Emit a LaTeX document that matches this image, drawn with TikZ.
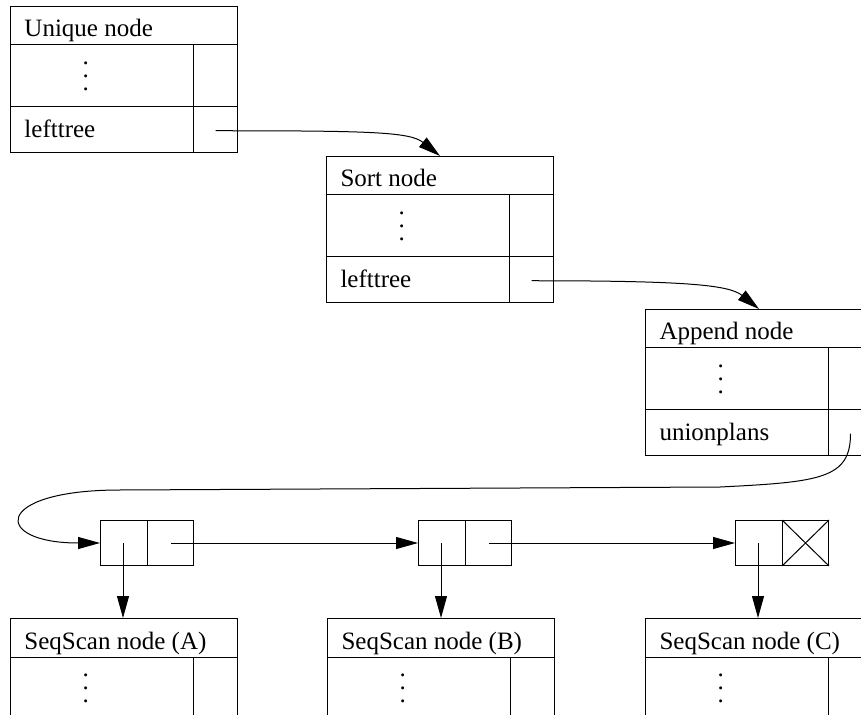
\documentclass[tikz,border=0pt]{standalone}
\usepackage{fontspec}
\setmainfont{Liberation Serif}
\usetikzlibrary{shapes,arrows.meta}
\newcommand{\titlestrut}{\rule[-3.75pt]{0pt}{18.75pt}}
\newcommand{\fieldstrut}{\rule[-7.25pt]{0pt}{22.25pt}}
\newcommand{\rowdots}{\rule[-15.25pt]{0pt}{30.5pt}\hspace*{29pt}\raisebox{-7.1pt}{\vbox{\baselineskip6.5pt\hbox{.}\hbox{.}\hbox{.}}}}
\newcommand{\cellstrut}{\makebox[23pt]{\rule{0pt}{22.5pt}}}

\begin{document}
\begin{tikzpicture}[x=0.5pt,y=-0.5pt,line width=0.5pt,>={Triangle[length=11pt,width=6pt]}]
  \tikzstyle{plannode}=[rectangle split,rectangle split parts=3,rectangle split part align=left,draw,minimum width=113.5pt,inner xsep=7pt,inner ysep=0pt,anchor=north west,font=\fontsize{12.5}{15}\selectfont]
  \tikzstyle{scannode}=[plannode,rectangle split parts=2]
  \tikzstyle{listcell}=[rectangle split,rectangle split horizontal,rectangle split parts=2,draw,inner sep=0pt,anchor=north west]
  \useasboundingbox (0,0) rectangle (861,715);

  \node[plannode] (unique) at (10,6) {\titlestrut Unique node \nodepart{two}\rowdots \nodepart{three}\fieldstrut lefttree};
  \node[plannode] (sort) at (326,156) {\titlestrut Sort node \nodepart{two}\rowdots \nodepart{three}\fieldstrut lefttree};
  \node[plannode] (append) at (645,309) {\titlestrut Append node \nodepart{two}\rowdots \nodepart{three}\fieldstrut unionplans};

  \node[listcell] (cella) at (100,520) {\cellstrut\nodepart{two}\cellstrut};
  \node[listcell] (cellb) at (418,520) {\cellstrut\nodepart{two}\cellstrut};
  \node[listcell] (cellc) at (735,520) {\cellstrut\nodepart{two}\cellstrut};
  \draw (cellc.one split north) -- (cellc.south east) (cellc.one split south) -- (cellc.north east);

  \node[scannode] (scana) at (10,618) {\titlestrut SeqScan node (A) \nodepart{two}\rowdots};
  \node[scannode] (scanb) at (327,618) {\titlestrut SeqScan node (B) \nodepart{two}\rowdots};
  \node[scannode] (scanc) at (645,618) {\titlestrut SeqScan node (C) \nodepart{two}\rowdots};

  % pointer column
  \foreach \n in {unique,sort,append,scana,scanb,scanc}
    \draw ([xshift=-22.5pt]\n.one split east) -- ([xshift=-22.5pt]\n.south east);
  \coordinate (uptr) at ([xshift=-11.25pt,yshift=11.125pt]unique.south east);
  \coordinate (sptr) at ([xshift=-11.25pt,yshift=11.125pt]sort.south east);
  \coordinate (aptr) at ([xshift=-11.25pt,yshift=11.125pt]append.south east);

  \draw[->] (uptr) .. controls +(156,0) and +(-30,-24) .. (sort.north);
  \draw[->] (sptr) .. controls +(156,0) and +(-30,-24) .. (append.north);
  \draw[->] (aptr) .. controls +(0,45) and +(100,-5) .. (720,487) -- (120,490)
    .. controls (-8,490) and (-8,543) .. (cella.west);

  % list links
  \draw[->] ([xshift=-11.5pt]cella.east) -- (cellb.west);
  \draw[->] ([xshift=-11.5pt]cellb.east) -- (cellc.west);
  \foreach \c/\s in {cella/scana,cellb/scanb,cellc/scanc}{
    \coordinate (p) at ([xshift=11.5pt]\c.west);
    \draw[->] (p) -- (p |- \s.north);
  }
\end{tikzpicture}
\end{document}
